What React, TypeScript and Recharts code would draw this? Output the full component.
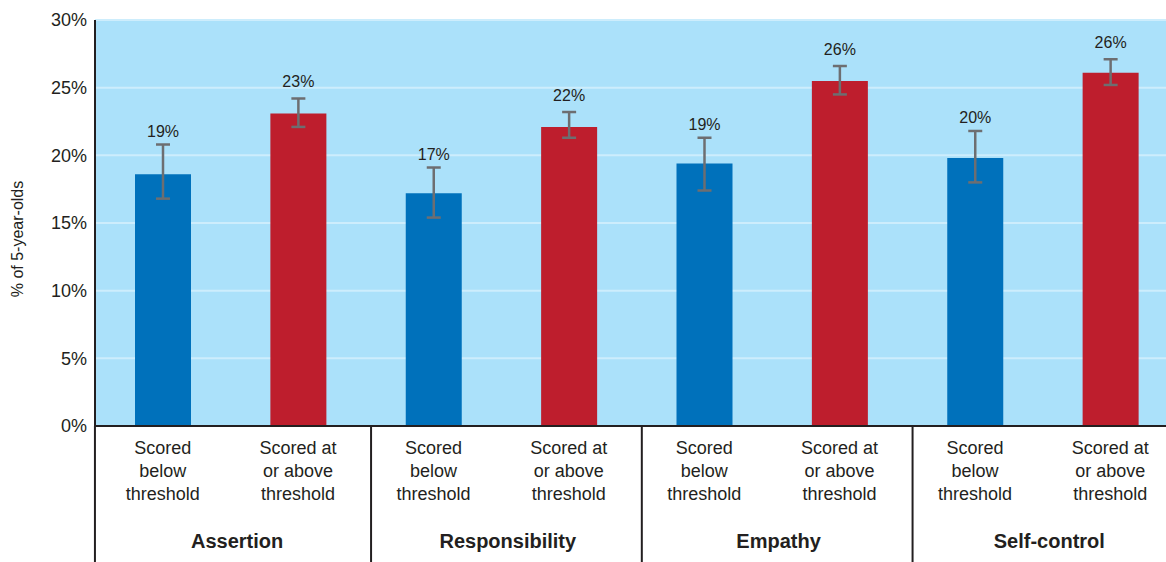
import { Bar, BarChart, CartesianGrid, Cell, ErrorBar, LabelList, XAxis, YAxis } from 'recharts'

const groups = ['Assertion', 'Responsibility', 'Empathy', 'Self-control']
const belowLines = ['Scored', 'below', 'threshold']
const aboveLines = ['Scored at', 'or above', 'threshold']

// % of 5-year-olds, with [minus, plus] error
const belowValues = [18.6, 17.2, 19.4, 19.8]
const belowErr = [[1.8, 2.2], [1.8, 1.9], [2.0, 1.9], [1.8, 2.0]]
const aboveValues = [23.1, 22.1, 25.5, 26.1]
const aboveErr = [[1.0, 1.1], [0.8, 1.1], [1.0, 1.1], [0.9, 1.0]]

const yTicks = [0, 5, 10, 15, 20, 25, 30]

const BLUE = '#0071bb'
const RED = '#be1e2d'
const TEXT = '#231f20'
const FONT = "'Liberation Sans', Arial, sans-serif"

const rows = groups.flatMap((g, i) => [
  { key: `below-${i}`, group: g, kind: 'below', value: belowValues[i], err: belowErr[i] },
  { key: `above-${i}`, group: g, kind: 'above', value: aboveValues[i], err: aboveErr[i] },
])

function CategoryTick(props: any) {
  const { x, y, payload } = props
  const i: number = payload?.index ?? props.index
  const isBelow = i % 2 === 0
  const lines = isBelow ? belowLines : aboveLines
  return (
    <g>
      {lines.map((l, k) => (
        <text key={k} x={x} y={y + 28 + k * 23} textAnchor="middle" fontSize={18} fill={TEXT} fontFamily={FONT}>
          {l}
        </text>
      ))}
      {i === 0 && <line x1={x - 67.75} x2={x - 67.75} y1={y} y2={y + 140} stroke={TEXT} strokeWidth={2} />}
      {!isBelow && i < rows.length - 1 && (
        <line x1={x + 73} x2={x + 73} y1={y} y2={y + 140} stroke={TEXT} strokeWidth={2} />
      )}
      {!isBelow && (
        <text x={x - 61} y={y + 122} textAnchor="middle" fontSize={20} fontWeight="bold" fill={TEXT} fontFamily={FONT}>
          {rows[i].group}
        </text>
      )}
    </g>
  )
}

function ValueLabel(props: any) {
  const { x, y, width, height, value, index } = props
  const row = rows[index]
  if (!row) return null
  const pxPer = height / value
  const errTop = y - row.err[1] * pxPer
  const gap = row.kind === 'below' ? 8 : 11
  return (
    <text x={x + width / 2} y={errTop - gap} textAnchor="middle" fontSize={16} fill={TEXT} fontFamily={FONT}>
      {`${Math.round(value)}%`}
    </text>
  )
}

function YTitle() {
  return (
    <text
      x={17}
      y={239}
      transform="rotate(-90, 17, 239)"
      textAnchor="middle"
      dominantBaseline="central"
      fontSize={16}
      fill={TEXT}
      fontFamily={FONT}
    >
      % of 5-year-olds
    </text>
  )
}

export default function App() {
  return (
    <div style={{ position: 'absolute', left: 0, top: 0, width: 1166, height: 562, overflow: 'hidden', background: '#fff' }}>
      <BarChart
        width={1179}
        height={562}
        data={rows}
        margin={{ top: 20, right: 1, left: 0, bottom: 0 }}
        barCategoryGap={0}
      >
        <CartesianGrid vertical={false} fill="#abe1fa" stroke="#cdedfc" strokeWidth={2} fillOpacity={1} />
        <XAxis
          dataKey="key"
          interval={0}
          height={136}
          tickSize={0}
          tickMargin={0}
          tickLine={false}
          axisLine={{ stroke: TEXT, strokeWidth: 2 }}
          tick={<CategoryTick />}
        />
        <YAxis
          width={95}
          domain={[0, 30]}
          ticks={yTicks}
          tickLine={false}
          axisLine={{ stroke: TEXT, strokeWidth: 2 }}
          tick={{ fill: TEXT, fontSize: 18, fontFamily: FONT }}
          tickFormatter={(v) => `${v}%`}
          label={() => <YTitle />}
        />
        <Bar dataKey="value" barSize={56} isAnimationActive={false}>
          {rows.map((r) => (
            <Cell key={r.key} fill={r.kind === 'below' ? BLUE : RED} />
          ))}
          <ErrorBar dataKey="err" width={7} stroke="#6d6e71" strokeWidth={2.5} isAnimationActive={false} />
          <LabelList dataKey="value" content={<ValueLabel />} />
        </Bar>
      </BarChart>
    </div>
  )
}
